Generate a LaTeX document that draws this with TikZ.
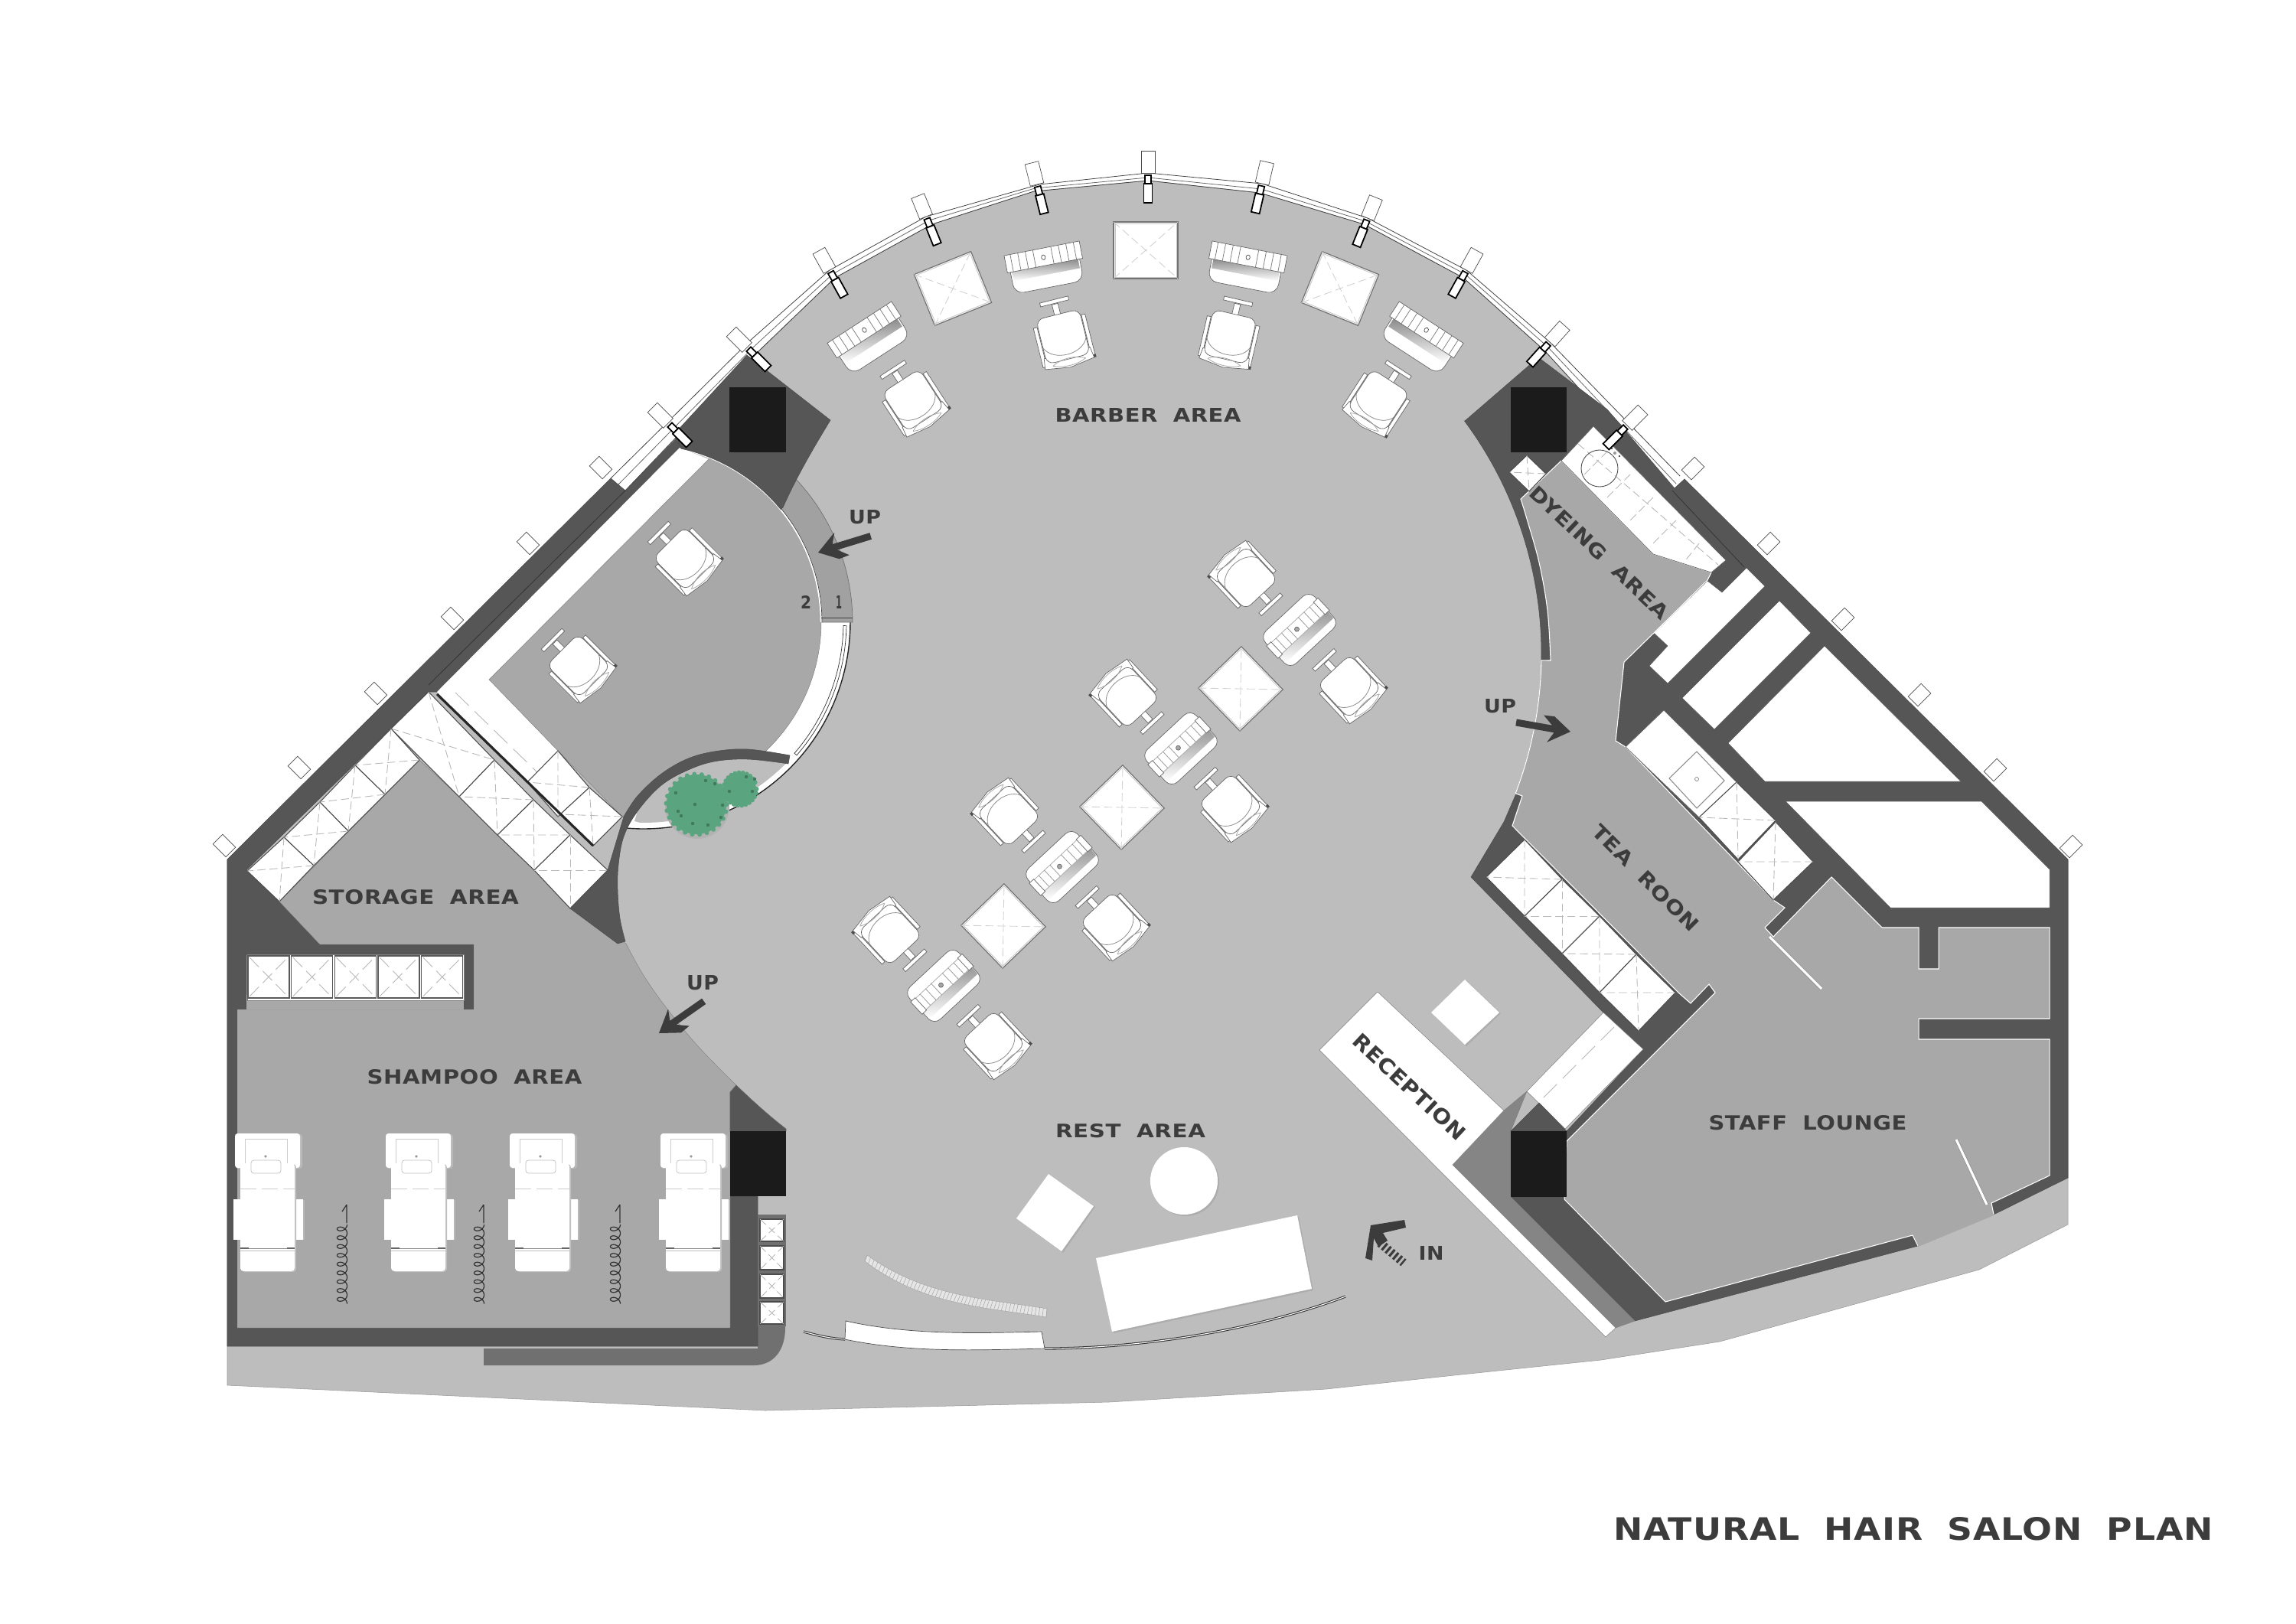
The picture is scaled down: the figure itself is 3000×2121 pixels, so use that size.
\documentclass[tikz,border=0pt]{standalone}
\usepackage{graphicx}
\usepackage{fontspec}
\setmainfont[WordSpace=1.9,LetterSpace=2]{DejaVu Sans}
\definecolor{mainfl}{HTML}{BDBDBD}
\definecolor{roomfl}{HTML}{A8A8A8}
\definecolor{wallc}{HTML}{565656}
\definecolor{colc}{HTML}{1B1B1B}
\definecolor{padc}{HTML}{707070}
\definecolor{medc}{HTML}{858585}
\definecolor{txtc}{HTML}{3C3C3C}
\definecolor{plantc}{HTML}{5AA57F}
\definecolor{plantd}{HTML}{3E7A5B}
\newlength\lu\setlength\lu{0.01cm}
\tikzset{
 hair/.style={line width=.22pt,draw=black!75},
 wallst/.style={fill=wallc,draw=black!70,line width=.15pt},
 roomst/.style={fill=roomfl,draw=black!50,line width=.12pt},
 whitest/.style={fill=white,draw=black!65,line width=.15pt},
 fur/.style={fill=white,draw=black!60,line width=.2pt},
 tilest/.style={fill=white,draw=black!70,line width=.3pt},
 tiledash/.style={draw=black!28,line width=.25pt,dash pattern=on 3pt off 1.5pt},
 finst/.style={fill=white,draw=black!70,line width=.2pt},
 mullst/.style={fill=white,draw=black,line width=.5pt},
 softshadow/.style={fill=black!32,draw=none},
}
\newcommand{\lbl}[7]{\node[inner sep=0pt,text=txtc,rotate=#5] (#1) at (#2,#3) {\resizebox{#6\lu}{#7\lu}{\bfseries #4}};}
\newcommand{\tile}[4]{\filldraw[tilest] #1--#2--#3--#4--cycle;\draw[tiledash] #1--#3 #2--#4;}
\newcommand{\chair}[3]{\begin{scope}[shift={(#1,#2)},rotate=#3]
 \filldraw[fur] (30,-22) rectangle (35,33);
 \filldraw[fur] (-35,-20) rectangle (-30,33);
 \filldraw[fur] (-4,-44) rectangle (4,-27);
 \filldraw[fur] (-19,-50) rectangle (19,-45);
 \filldraw[fur] (-31,22)--(31,22)--(33,36)--(0,41)--(-33,36)--cycle;
 \filldraw[fur,rounded corners=2.8pt] (-29,-30) rectangle (29,30);
 \draw[hair,draw=black!45] (-29,8) .. controls (-20,29) and (20,29) .. (29,8);
 \draw[hair,draw=black!35] (-22,34) .. controls (-10,27) and (10,27) .. (22,34);
 \draw[hair,draw=black!35] (-22,34) .. controls (-10,40) and (10,40) .. (22,34);
 \fill[black!70] (33,32) rectangle (36,36);
\end{scope}}
\newcommand{\sinka}[3]{\begin{scope}[shift={(#1,#2)},rotate=#3]
 \filldraw[fur,rounded corners=3.6pt] (-46,-20) rectangle (46,26);
 \shade[top color=black!45,bottom color=white] (-44,-3) rectangle (44,9);
 \filldraw[fur] (-50,-26) rectangle (50,-3);
 \foreach \i in {-42,-32,...,-12,12,22,...,42} {\draw[hair,draw=black!50] (\i,-26)--(\i,-3);}
 \filldraw[fur,draw=black!70] (0,-14) ellipse (2.6 and 3.2);
\end{scope}}
\newcommand{\sinkb}[3]{\begin{scope}[shift={(#1,#2)},rotate=#3]
 \filldraw[fur,rounded corners=3.2pt] (-44,-29) rectangle (44,29);
 \shade[top color=black!40,bottom color=white] (-43,7) rectangle (43,19);
 \filldraw[fur,draw=black!35] (-44,-13) rectangle (44,7);
 \filldraw[fur] (-46,-14) rectangle (-38,8);
 \filldraw[fur] (38,-14) rectangle (46,8);
 \foreach \i in {-30,-20,-10,10,20,30} {\draw[hair,draw=black!40] (\i,-13)--(\i,7);}
 \filldraw[fill=black!35,draw=black!60,line width=.2pt] (-2,-3) circle (3);
\end{scope}}
\newcommand{\sqtable}[5]{\begin{scope}[shift={(#1,#2)},rotate=#3]
 \filldraw[fill=white,draw=black!55,line width=.35pt] (-#4/2,-#5/2) rectangle (#4/2,#5/2);
 \draw[draw=black!22,line width=.25pt] (-#4/2+2,-#5/2+2) rectangle (#4/2-2,#5/2-2);
 \draw[tiledash,draw=black!18] (-#4/2,-#5/2)--(#4/2,#5/2) (-#4/2,#5/2)--(#4/2,-#5/2);
\end{scope}}
\newcommand{\sinkgroup}[2]{\sinkb{#1}{#2}{43}\chair{#1+65}{#2+74}{43}\chair{#1-70}{#2-68}{223}}
\newcommand{\mull}[3]{\begin{scope}[shift={(#1,#2)},rotate=#3]
 \filldraw[finst] (-9,-29) rectangle (9,0);
 \filldraw[mullst] (-4,3) rectangle (4,14);
 \filldraw[mullst] (-5.5,14) rectangle (5.5,39);
\end{scope}}
\newcommand{\fin}[3]{\begin{scope}[shift={(#1,#2)},rotate=#3]
 \filldraw[finst] (-9,-12) rectangle (9,12);
\end{scope}}
\newcommand{\bed}[1]{\begin{scope}[shift={(#1,1481)}]
 \fill[black!28,rounded corners=1pt] (1,1) rectangle (88,46);
 \fill[white,rounded corners=1pt] (0,0) rectangle (85,45);
 \draw[hair,draw=black!20] (13,40)--(13,7)--(68,7)--(68,40);
 \fill[black!40] (40,30) circle (1.8);
 \fill[black!28] (-1,87) rectangle (91,139);
 \fill[white] (-2,86) rectangle (89,139);
 \fill[black!25,rounded corners=1.2pt] (9,40) rectangle (80,181);
 \fill[white,rounded corners=1.2pt] (7,39) rectangle (78,180);
 \draw[hair,draw=black!20,dash pattern=on 6pt off 2pt] (7,72)--(78,72);
 \filldraw[fill=white,draw=black!25,line width=.2pt,rounded corners=1pt] (21,35) rectangle (60,52);
 \draw[hair,draw=black!45] (7,150)--(78,150);
 \fill[black!60] (7,149) rectangle (18,151);\fill[black!60] (68,149) rectangle (78,151);
 \draw[hair,draw=black!25] (7,153)--(78,153);
\end{scope}}
\newcommand{\coil}[1]{\draw[line width=.35pt,black!80] (#1+6,1574)--(#1+6,1598) (#1+6,1574)--(#1,1583)
 plot[domain=0:3240,samples=320] ({#1+6.5*cos(\x)},{1600+\x/360*11.5+5*sin(\x)});}
\newcommand{\uparr}[3]{\begin{scope}[shift={(#1,#2)},rotate=#3]
 \fill[txtc] (0,0)--(28,-19)--(21,-5)--(72,-5)--(72,4)--(25,4)--(38,15)--(24,16)--cycle;
\end{scope}}
\begin{document}
\begin{tikzpicture}[x=0.01cm,y=-0.01cm]
\useasboundingbox (0,0) rectangle (3000,2121);
\fill[white] (0,0) rectangle (3000,2121);
% base floor
\filldraw[fill=mainfl,draw=black!40,line width=.15pt] (297,1123)--(798,625)--(817,641)--(990,460)--(1091,363)--(1218,293)--(1351,250)--(1500,236)--(1646,252)--(1782,293)--(1912,363)--(2018,458)--(2185,641)--(2201,626)--(2702,1123)--(2702,1600)--(2586,1659)--(2247,1753)--(2092,1777)--(1900,1797)--(1733,1815)--(1449,1832)--(1000,1843)--(297,1810)--cycle;
% glazing
\draw[hair] (798,625)--(980,445)--(1084,353)--(1210,283)--(1358,241)--(1500,226)--(1649,240)--(1787,285)--(1916,353)--(2025,447)--(2195,622);
\draw[hair] (817,641)--(990,460)--(1091,363)--(1218,293)--(1351,250)--(1500,236)--(1646,252)--(1782,293)--(1912,363)--(2018,458)--(2185,641);
\draw[hair,draw=black!60] (808,633)--(985,453)--(1088,358)--(1214,288)--(1352,246)--(1500,232)--(1648,247)--(1784,289)--(1914,358)--(2022,453)--(2190,632);
% pad
\fill[padc] (632,1762)--(632,1784)--(985,1784) .. controls (1010,1784) and (1026,1765) .. (1026,1735)--(1026,1730)--(990,1730)--(990,1762)--cycle;
% left wall
\filldraw[wallst] (297,1123)--(798,625)--(817,641)--(884,573)--(890,586)--(571,904)--(560,904)--(322,1137)--(365,1178)--(418,1234)--(619,1234)--(619,1319)--(606,1319)--(606,1247)--(322,1247)--(322,1319)--(310,1319)--(310,1735)--(954,1735)--(954,1563)--(990,1563)--(990,1759)--(297,1759)--cycle;
\draw[hair,draw=black!80] (817,641)--(560,895);
% shampoo / storage floor
\filldraw[roomst] (310,1735)--(954,1735)--(954,1427)--(962,1418)-- plot[smooth,tension=.6] coordinates {(962,1418)(912,1367)(870,1316)(840,1273)(818,1233)}--(745,1187)--(698,1137)--(650,1091)--(600,1041)--(548,993)--(365,1178)--(418,1234)--(619,1234)--(619,1319)--(310,1319)--cycle;
\fill[roomfl] (322,1319)--(606,1319)--(606,1300)--(322,1300)--cycle;
% bottom-left column
\filldraw[fill=wallc,draw=black!60,line width=.15pt] (954,1478)--(954,1427)--(962,1418) .. controls (985,1440) and (1005,1458) .. (1027,1475)--(1027,1478)--cycle;
\fill[colc] (954,1478) rectangle (1027,1563);
% tile stack
\fill[padc] (990,1587) rectangle (1027,1733);
\tile{(993,1593)}{(1024,1593)}{(1024,1622)}{(993,1622)}
\tile{(993,1628)}{(1024,1628)}{(1024,1659)}{(993,1659)}
\tile{(993,1665)}{(1024,1665)}{(1024,1696)}{(993,1696)}
\tile{(993,1701)}{(1024,1701)}{(1024,1730)}{(993,1730)}
% storage tiles
\tile{(511,952)}{(560,904)}{(646,993)}{(600,1041)}
\tile{(511,952)}{(548,993)}{(503,1038)}{(464,1000)}
\tile{(464,1000)}{(503,1038)}{(455,1086)}{(418,1048)}
\tile{(418,1048)}{(455,1086)}{(410,1131)}{(371,1094)}
\tile{(371,1094)}{(410,1131)}{(365,1178)}{(323,1138)}
\tile{(646,993)}{(697,1045)}{(650,1091)}{(600,1041)}
\tile{(697,1045)}{(745,1091)}{(698,1137)}{(650,1091)}
\tile{(745,1091)}{(794,1137)}{(745,1187)}{(698,1137)}
\filldraw[fill=white,draw=black!50,line width=.2pt] (323,1247) rectangle (606,1307);
\foreach \i in {0,1,2,3,4} {
 \begin{scope}[shift={(324+\i*56.7,1249)}]
 \filldraw[fill=white,draw=black!65,line width=.35pt] (0,0) rectangle (54,55);
 \draw[draw=black!28,line width=.25pt,dash pattern=on 5pt off 2pt] (2,2)--(52,53) (2,53)--(52,2);
 \end{scope}}
% white ring and upper-left room
\filldraw[fill=white,draw=none] plot[domain=0:95,samples=50] ({841+270*cos(\x)},{813+270*sin(\x)}) -- plot[domain=95:0,samples=50] ({841+232*cos(\x)},{813+232*sin(\x)}) -- cycle;
\draw[line width=.4pt,black!85] plot[domain=0:95,samples=50] ({841+270*cos(\x)},{813+270*sin(\x)});
\draw[line width=.2pt,black!80] plot[domain=1:41,samples=30] ({841+261*cos(\x)},{813+261*sin(\x)}) -- plot[domain=41:1,samples=30] ({841+265*cos(\x)},{813+265*sin(\x)}) -- cycle;
\filldraw[fill=white,draw=none] (571,904)--(888,585)--(926,600)--(639,888)--(729,981)--(689,1022)--cycle;
\filldraw[roomst] (639,888)--(926,600)-- plot[domain=-68.2:60,samples=60] ({841+232*cos(\x)},{813+232*sin(\x)}) --(900,1040)--(813,1067)--(729,981)--cycle;
\draw[tiledash,dash pattern=on 7pt off 3pt] (595,905)--(705,1012);
\tile{(729,981)}{(770,1029)}{(729,1067)}{(689,1022)}
\tile{(770,1029)}{(813,1067)}{(775,1105)}{(732,1064)}
\draw[line width=.9pt,black!85] (571,907)--(775,1105);
% stair
\filldraw[fill=roomfl!108!white,draw=black!55,line width=.2pt] plot[domain=-45:0,samples=30] ({841+273*cos(\x)},{813+273*sin(\x)}) -- plot[domain=0:-45,samples=30] ({841+232*cos(\x)},{813+232*sin(\x)}) -- cycle;
\draw[line width=.7pt,white] plot[domain=-77:0,samples=50] ({841+232*cos(\x)},{813+232*sin(\x)});
\draw[line width=.2pt,black!75] plot[domain=-77:0,samples=50] ({841+233*cos(\x)},{813+233*sin(\x)});
\draw[line width=.25pt,black!75] (1073,807)--(1114,807);
% crescent
\fill[mainfl] plot[smooth,tension=.6] coordinates {(1030,998)(977,992)(933,995)(897,1007)(863,1027)(833,1060)} -- (829,1073) -- plot[domain=91:45,samples=30] ({841+262*cos(\x)},{813+262*sin(\x)}) -- cycle;
% band round the lobe
\filldraw[wallst] plot[smooth,tension=.6] coordinates {(1032,987)(977,979)(933,982)(897,992)(863,1012)(833,1040)(815,1067)}--(794,1137)--(745,1187)--(807,1233)--(817,1230)-- plot[smooth,tension=.6] coordinates {(817,1230)(810,1200)(807,1163)(808,1130)(815,1093)(833,1060)(863,1027)(897,1007)(933,995)(977,992)(1030,998)} -- cycle;
% top-left column block
\filldraw[wallst] (976,464)--(1085,549) .. controls (1060,590) and (1040,625) .. (1023,663)-- plot[domain=-39.5:-77.8,samples=30] ({841+232*cos(\x)},{813+232*sin(\x)}) --(882,566)--cycle;
\fill[colc] (953,506) rectangle (1027,591);
\mull{976}{454}{45}
% right wall mass
\filldraw[wallst] (1914,550)--(2010,467)--(2100,535)--(2188,638)--(2201,626)--(2702,1123)--(2702,1539)--(2605,1587)--(2506,1628)--(2136,1726)--(1974,1564)--(2047,1564)--(2047,1478)--(2147,1371)--(2095,1323)--(1922,1146)--(1965,1074)--(1981,1037)-- plot[domain=21:-36.6,samples=50] ({1504+510*cos(\x)},{854+510*sin(\x)}) --cycle;
\fill[colc] (1974,506) rectangle (2047,591);
\draw[hair,draw=black!80] (2185,641)--(2279,741);
% white rooms
\filldraw[whitest] (2231,759)--(2161,827)--(2179,844)--(2155,870)--(2179,893)--(2306,766)--(2282,742)--(2250,774)--cycle;
\filldraw[whitest] (2325,785)--(2366,827)--(2240,953)--(2198,912)--cycle;
\filldraw[whitest] (2384,844)--(2562,1021)--(2306,1021)--(2258,971)--cycle;
\filldraw[whitest] (2333,1047)--(2589,1047)--(2678,1136)--(2678,1186)--(2470,1186)--cycle;
% dyeing, tea, lounge floor
\filldraw[fill=roomfl,draw=white,line width=.3pt] (1987,652)--(2040,602)--(2160,724)--(2236,748)--(2231,758)--(2161,827)--(2122,865)--(2111,968)--(2124,976)--(2317,1176)--(2332,1186)--(2306,1212)--(2317,1224)--(2393,1146)--(2459,1212)--(2507,1212)--(2507,1266)--(2533,1266)--(2533,1212)--(2678,1212)--(2678,1331)--(2507,1331)--(2507,1358)--(2678,1358)--(2678,1536)--(2602,1572)--(2605,1587)--(2506,1628)--(2499,1614)--(2176,1701)--(2044,1567)--(2047,1491)--(2241,1297)--(2233,1286)--(2209,1311)--(2193,1297)--(1976,1079)--(1989,1040)--(1981,1037)-- plot[domain=21:1,samples=30] ({1504+510*cos(\x)},{854+510*sin(\x)}) --(2026,863)-- plot[smooth,tension=.6] coordinates {(2026,863)(2022,798)(2011,735)(1995,678)(1987,652)}--cycle;
\draw[line width=.6pt,roomfl] (2506,1628)--(2605,1587);
\fill[mainfl] (2506,1630)--(2605,1589)--(2605,1600)--(2506,1640)--cycle;
% cabinets right
\filldraw[fill=white,draw=black!60,line width=.2pt] (2082,557)--(2255,732)--(2236,748)--(2160,724)--(2040,602)--cycle;
\draw[tiledash] (2062,580)--(2245,738) (2100,590)--(2070,620) (2130,620)--(2100,650) (2160,650)--(2130,680) (2190,680)--(2160,710) (2220,710)--(2200,735);
\draw[line width=.25pt,black!70] (2090,612) circle (24);
\fill[black!70] (2106,586) circle (1.3) (2116,596) circle (1.3);
\fill[black!40] (2110,592) circle (2);
\tile{(1995,595)}{(2020,619)}{(1998,642)}{(1972,617)}
\filldraw[fill=white,draw=black!60,line width=.2pt] (2174,928)--(2124,976)--(2220,1068)--(2269,1022)--cycle;
\draw[line width=.3pt,black!45] (2217,982)--(2253,1020)--(2217,1056)--(2181,1017)--cycle;
\draw[line width=.2pt,black!50] (2217,1018) circle (2.5);
\tile{(2269,1022)}{(2320,1072)}{(2271,1123)}{(2220,1068)}
\tile{(2320,1074)}{(2369,1126)}{(2317,1176)}{(2271,1126)}
\tile{(1992,1097)}{(2041,1149)}{(1992,1197)}{(1942,1146)}
\tile{(2041,1149)}{(2090,1197)}{(2041,1246)}{(1992,1197)}
\tile{(2090,1197)}{(2138,1247)}{(2090,1297)}{(2041,1246)}
\tile{(2138,1247)}{(2189,1297)}{(2141,1347)}{(2090,1297)}
% door leaves
\draw[line width=1.3pt,black!45] (2312,1224)--(2380,1292);
\draw[line width=.9pt,white] (2312,1224)--(2380,1292);
\draw[line width=1.3pt,black!45] (2556,1489)--(2596,1574);
\draw[line width=.9pt,white] (2556,1489)--(2596,1574);
% reception side
\filldraw[fill=medc,draw=black!50,line width=.12pt] (1995,1426)--(1965,1451)--(1898,1522)--(2111,1735)--(2136,1726)--(1974,1564)--(1974,1478)--cycle;
\filldraw[fill=white,draw=black!50,line width=.15pt] (1800,1296)--(1965,1451)--(1898,1522)--(2111,1735)--(2098,1747)--(1724,1372)--cycle;
\filldraw[fill=white,draw=black!50,line width=.15pt] (2095,1323)--(2147,1371)--(2045,1475)--(1995,1426)--cycle;
\draw[tiledash,dash pattern=on 7pt off 3pt] (2109,1342)--(2011,1440);
\filldraw[wallst] (1974,1478)--(2011,1441)--(2047,1478)--cycle;
\fill[colc] (1974,1478) rectangle (2047,1564);
% free-standing furniture
\fill[softshadow] (1916,1281)--(1961,1324)--(1916,1367)--(1872,1324)--cycle;
\filldraw[fill=white,draw=none] (1914,1280)--(1959,1323)--(1914,1365)--(1870,1323)--cycle;
\fill[softshadow] (1372,1535)--(1431,1577)--(1389,1637)--(1330,1593)--cycle;
\filldraw[fill=white,draw=none] (1370,1534)--(1429,1576)--(1387,1635)--(1328,1592)--cycle;
\fill[softshadow] (1549,1545) circle (44);
\filldraw[fill=white,draw=none] (1547,1543) circle (44);
\fill[softshadow] (1434,1646)--(1697,1590)--(1716,1686)--(1455,1742)--cycle;
\filldraw[fill=white,draw=none] (1432,1644)--(1695,1588)--(1714,1684)--(1453,1740)--cycle;
% curved screens
\filldraw[fill=black!10,draw=black!35,line width=.15pt] (1133,1640) .. controls (1210,1695) and (1290,1697) .. (1368,1710)--(1367,1721) .. controls (1285,1708) and (1205,1705) .. (1130,1648)--cycle;
\foreach \t in {0,0.02,...,1.001} {\draw[line width=.15pt,black!35] ({(1-\t)^3*1133+3*\t*(1-\t)^2*1210+3*\t*\t*(1-\t)*1290+\t^3*1368},{(1-\t)^3*1640+3*\t*(1-\t)^2*1695+3*\t*\t*(1-\t)*1697+\t^3*1710})--({(1-\t)^3*1130+3*\t*(1-\t)^2*1205+3*\t*\t*(1-\t)*1285+\t^3*1367},{(1-\t)^3*1648+3*\t*(1-\t)^2*1705+3*\t*\t*(1-\t)*1708+\t^3*1721});}
\draw[line width=.9pt,black!80] (1050,1740) .. controls (1068,1745) and (1085,1749) .. (1104,1750);
\draw[line width=.3pt,white] (1050,1740) .. controls (1068,1745) and (1085,1749) .. (1104,1750);
\draw[line width=.9pt,black!80] (1365,1762) .. controls (1500,1762) and (1650,1735) .. (1758,1694);
\draw[line width=.3pt,white] (1365,1762) .. controls (1500,1762) and (1650,1735) .. (1758,1694);
\filldraw[fill=white,draw=black!70,line width=.2pt] (1105,1726) .. controls (1190,1745) and (1280,1742) .. (1361,1740)--(1365,1762) .. controls (1280,1764) and (1190,1768) .. (1104,1750)--cycle;
% plants
\fill[black!30] (911,1054) circle (42);
\foreach \p/\q/\r in {910/1051/41,967/1031/23}{
 \fill[plantc] (\p,\q) circle (\r-2);
 \foreach \a in {0,14,...,346} {\fill[plantc] ({\p+(\r-1.5)*cos(\a)},{\q+(\r-1.5)*sin(\a)}) circle (3);}
}
\foreach \p/\q in {886/1060,890/1066,883/1036,905/1076,925/1078,942/1068,944/1052,934/1024,922/1020,908/1051,953/1034,986/1018,983/1034,975/1015}{\fill[plantd] (\p,\q) circle (2.2);}
% top fins and mullions
\mull{1084}{353}{29}
\mull{1210}{283}{22}
\mull{1355}{241}{14}
\mull{1500}{226}{0}
\mull{1649}{240}{-13}
\mull{1787}{285}{-22}
\mull{1916}{353}{-29}
\mull{2025}{447}{-42}
\mull{2126}{556}{-45}
\mull{873}{553}{45}
\foreach \p/\q in {785/611,690/710,591/808,491/906,391/1003,293/1105}{\fin{\p}{\q}{45}}
\foreach \p/\q in {2212/612,2311/710,2408/809,2508/908,2607/1006,2706/1106}{\fin{\p}{\q}{-45}}
% barber stations
\sqtable{1497}{327}{0}{84}{74}
\sqtable{1245}{377}{22}{80}{72}
\sqtable{1751}{377}{-22}{80}{72}
\sinka{1137}{443}{33}
\sinka{1366}{350}{11}
\sinka{1628}{350}{-11}
\sinka{1856}{443}{-33}
\chair{1193}{523}{33}
\chair{1389}{440}{14}
\chair{1607}{440}{-13}
\chair{1801}{523}{-33}
\chair{895}{730}{45}
\chair{756}{870}{45}
\sqtable{1621}{900}{44}{78}{78}
\sqtable{1466}{1055}{44}{78}{78}
\sqtable{1311}{1210}{44}{78}{78}
\sinkgroup{1698}{823}
\sinkgroup{1543}{978}
\sinkgroup{1388}{1133}
\sinkgroup{1233}{1288}
% shampoo beds and coils
\bed{307}\bed{504}\bed{666}\bed{863}
\coil{447}\coil{626}\coil{804}
% arrows
\uparr{1069}{722}{17}
\uparr{861}{1350}{35}
\uparr{2052}{956}{170}
\fill[txtc] (1791,1601)--(1835,1594)--(1837,1604)--(1807,1611)--(1813,1621)--(1801,1629)--(1795,1618)--(1793,1647)--(1784,1644)--cycle;
\draw[txtc,line width=3.2pt,dash pattern=on .9pt off .9pt] (1803,1624)--(1834,1650);
% labels
\lbl{barber}{1500}{542}{BARBER AREA}{0}{243}{18}
\lbl{storage}{543}{1172}{STORAGE AREA}{0}{270}{19}
\lbl{shampoo}{620}{1407}{SHAMPOO AREA}{0}{281}{19}
\lbl{upa}{1130}{676}{UP}{0}{42}{18}
\lbl{upb}{918}{1284}{UP}{0}{42}{19}
\lbl{upc}{1960}{923}{UP}{0}{42}{18}
\lbl{stwo}{1053}{787}{2}{0}{14}{17}
\lbl{sone}{1096}{787}{1}{0}{8}{17}
\lbl{dyeing}{2090}{722}{DYEING AREA}{-43.5}{240}{19}
\lbl{tea}{2150}{1147}{TEA ROON}{-45}{185}{19}
\lbl{rest}{1477}{1478}{REST AREA}{0}{196}{18}
\lbl{staff}{2362}{1467}{STAFF LOUNGE}{0}{259}{19}
\lbl{recep}{1842}{1420}{RECEPTION}{-43}{190}{20}
\lbl{inlab}{1870}{1637}{IN}{0}{33}{18}
\lbl{title}{2500}{1998}{NATURAL HAIR SALON PLAN}{0}{784}{30}
\end{tikzpicture}
\end{document}
